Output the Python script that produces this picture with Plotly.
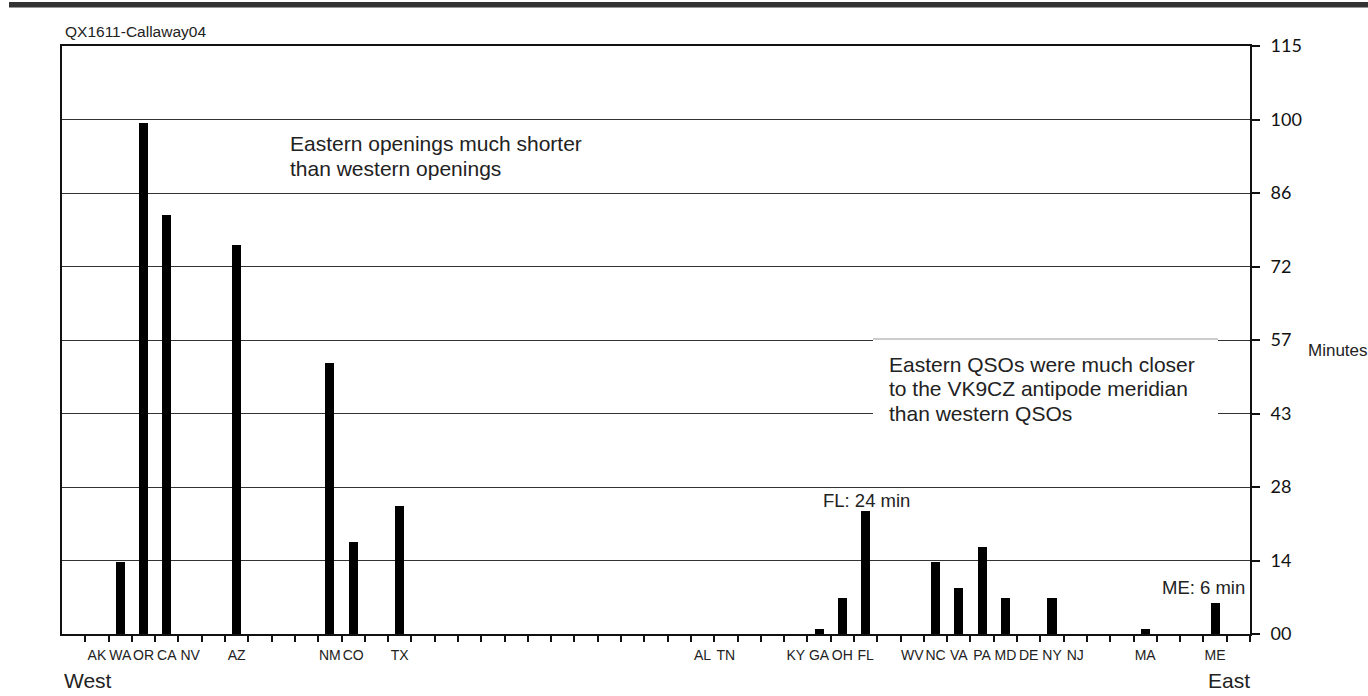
import plotly.graph_objects as go

# ---- data ----
# 51 longitude-ordered slots, west to east ('' = unlabeled slot)
slot_labels = ["", "AK", "WA", "OR", "CA", "NV", "", "AZ", "", "", "",
               "NM", "CO", "", "TX",
               "", "", "", "", "", "", "", "", "", "", "", "",
               "AL", "TN", "", "", "KY", "GA", "OH", "FL", "", "WV",
               "NC", "VA", "PA", "MD", "DE", "NY", "NJ", "", "", "MA",
               "", "", "ME", ""]
bar_states = ["WA", "OR", "CA", "AZ", "NM", "CO", "TX", "GA", "OH", "FL",
              "NC", "VA", "PA", "MD", "NY", "MA", "ME"]
bar_minutes = [14, 100, 82, 76, 53, 18, 25, 1, 7, 24,
               14, 9, 17, 7, 7, 1, 6]
y_tick_labels = ["00", "14", "28", "43", "57", "72", "86", "100", "115"]
y_max = 115

# ---- layout geometry (page pixels) ----
W, H = 1368, 696
L, R, T, B = 62, 1250, 46, 634


def px(xp):
    return (xp - L) / (R - L)


def py(yp):
    return (B - yp) / (B - T)


n_slots = len(slot_labels)
bar_x = [slot_labels.index(s) for s in bar_states]
label_idx = [i for i, s in enumerate(slot_labels) if s]
label_txt = [slot_labels[i] for i in label_idx]
boundaries = [i + 0.5 for i in range(n_slots)]
y_tickvals = [y_max * i / (len(y_tick_labels) - 1) for i in range(len(y_tick_labels))]

fig = go.Figure()
fig.add_trace(go.Bar(x=bar_x, y=bar_minutes, width=0.39,
                     marker=dict(color="black", line=dict(width=0)),
                     showlegend=False, hoverinfo="skip"))
# invisible helper so the boundary-tick axis is rendered
fig.add_trace(go.Scatter(x=[boundaries[0]], y=[0], xaxis="x2", mode="markers",
                         marker=dict(opacity=0), showlegend=False, hoverinfo="skip"))

txt = "#222222"
fig.update_layout(
    width=W, height=H,
    margin=dict(l=L, r=W - R, t=T, b=H - B, pad=0),
    paper_bgcolor="white", plot_bgcolor="white",
    bargap=0,
    xaxis=dict(range=[-0.5, n_slots - 0.5], tickmode="array",
               tickvals=label_idx, ticktext=label_txt, tickangle=0,
               ticks="outside", ticklen=7, tickcolor="rgba(0,0,0,0)",
               tickfont=dict(family="Liberation Sans Narrow, Liberation Sans", size=14, color=txt),
               showline=True, linecolor="#111", linewidth=2, mirror=True,
               showgrid=False, zeroline=False, fixedrange=True),
    xaxis2=dict(range=[-0.5, n_slots - 0.5], overlaying="x", anchor="y", side="bottom",
                tickmode="array", tickvals=boundaries, ticks="outside", ticklen=7,
                tickwidth=1.5, tickcolor="#111", showticklabels=False,
                showline=False, showgrid=False, zeroline=False),
    yaxis=dict(range=[0, y_max], side="right", tickmode="array",
               tickvals=y_tickvals, ticktext=y_tick_labels,
               ticks="outside", ticklen=8, tickwidth=1.5, tickcolor="#111",
               ticklabelstandoff=7,
               tickfont=dict(family="Lato, Carlito, sans-serif", size=18, color="#111"),
               showgrid=True, gridcolor="#333", gridwidth=1,
               showline=True, linecolor="#111", linewidth=2, mirror=True,
               zeroline=False, fixedrange=True),
)

shapes = [
    # top heavy rule
    dict(type="rect", xref="paper", yref="paper", x0=px(9), x1=px(1368), y0=py(7.5), y1=py(2),
         fillcolor="#333", line=dict(width=0), layer="above"),
    # white box behind the second note
    dict(type="rect", xref="paper", yref="paper", x0=px(873), x1=px(1218), y0=py(428), y1=py(339),
         fillcolor="white", line=dict(width=0), layer="above"),
    dict(type="line", xref="paper", yref="paper", x0=px(873), x1=px(1218), y0=py(339), y1=py(339),
         line=dict(color="#999", width=1), layer="above"),
]
fig.update_layout(shapes=shapes)

ann_font = "Liberation Sans, Arial, sans-serif"


def note(text, xp, yp, size, xanchor="left", color=txt):
    return dict(text=text, xref="paper", yref="paper", x=px(xp), y=py(yp),
                xanchor=xanchor, yanchor="middle", showarrow=False,
                font=dict(family=ann_font, size=size, color=color))


annotations = [
    note("QX1611-Callaway04", 63, 31, 15.5),
    note("Eastern openings much shorter", 288, 143.5, 21),
    note("than western openings", 288, 169, 21),
    note("Eastern QSOs were much closer", 887, 364.5, 21),
    note("to the VK9CZ antipode meridian", 887, 388, 21),
    note("than western QSOs", 887, 413, 21),
    note("FL: 24 min", 866, 500, 18.5, xanchor="center"),
    note("ME: 6 min", 1247, 587, 18.5, xanchor="right"),
    note("West", 62, 680.5, 21),
    note("East", 1252, 680.5, 21, xanchor="right"),
    note("Minutes", 1306, 350, 17),
]
fig.update_layout(annotations=annotations)

fig.write_html("out.html", config={"displayModeBar": False},
               post_script="document.body.style.margin='0';document.body.style.overflow='hidden';")
